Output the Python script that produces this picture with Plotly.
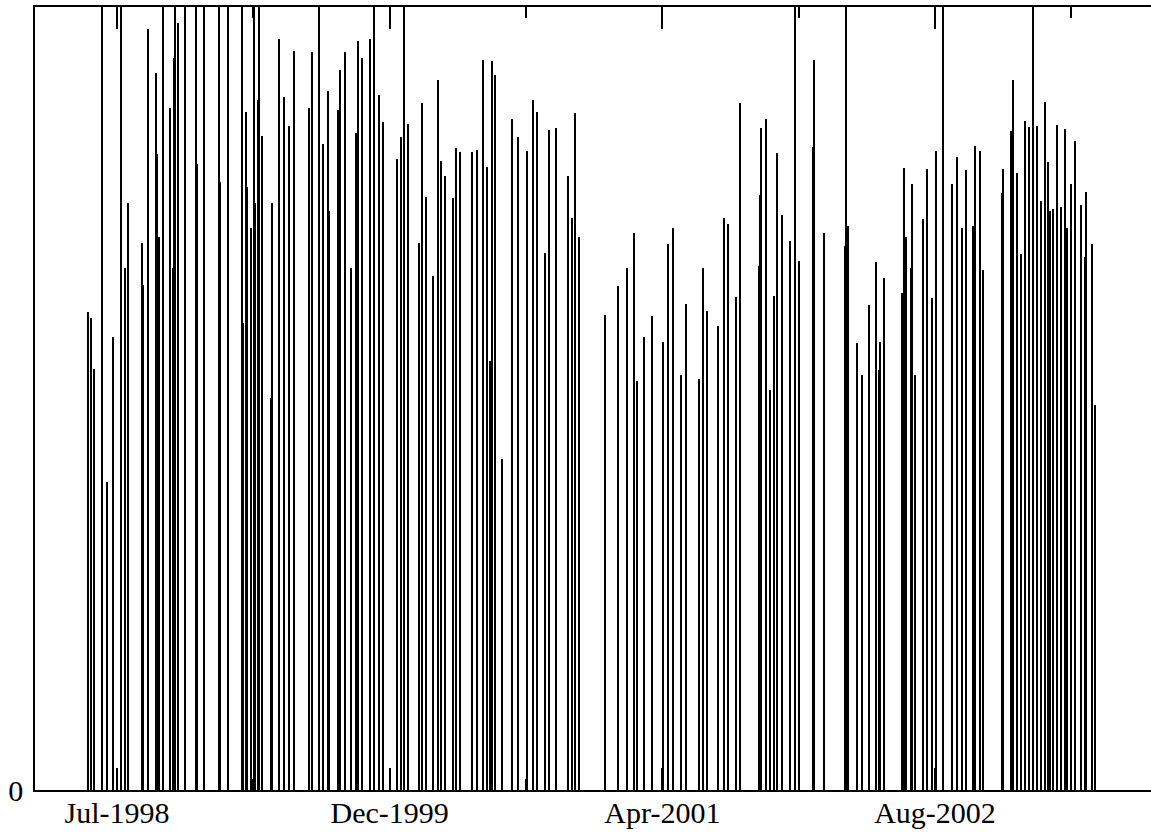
import pandas as pd
import plotly.graph_objects as go

# Observation dates, as days since 1998-01-01
obs_day = [158,163,170,184,193,204,218,225,232,257,258,267,283,284,288,295,296,307,308,314,
           315,317,322,335,355,356,357,369,370,397,398,399,413,414,439,439,441,446,448,455,
           456,461,462,469,470,476,492,493,506,516,525,533,562,566,580,586,596,597,614,618,
           626,638,647,650,658,672,679,688,697,721,728,734,741,761,767,774,788,796,802,809,
           823,830,837,858,867,878,886,891,894,900,913,931,942,959,970,977,991,998,1011,1034,
           1040,1046,1054,1100,1125,1141,1153,1159,1172,1186,1206,1215,1224,1240,1249,1272,1279,1286,1307,1317,
           1325,1340,1347,1381,1384,1385,1386,1394,1401,1408,1415,1423,1438,1447,1454,1479,1480,1481,1500,1539,
           1540,1543,1560,1569,1582,1594,1601,1602,1610,1642,1645,1650,1659,1661,1665,1680,1688,1696,1704,1717,
           1717,1734,1743,1751,1758,1772,1775,1784,1790,1825,1826,1841,1845,1851,1859,1867,1873,1881,1888,1895,
           1902,1908,1911,1918,1924,1932,1939,1943,1950,1957,1968,1975,1978,1988,1994]

# Observed values
obs_value = [61.0,60.3,53.8,112,39.3,57.9,108,66.7,75.0,69.9,64.5,97.2,91.6,81.2,70.6,115,88.5,68.1,87.1,66.7,
             93.5,104,98.0,120,91.6,110,79.9,106,76.5,86.1,118,77.7,109,83.8,56.4,73.7,59.6,86.6,77.0,71.8,
             66.7,113,75.0,88.1,105,83.5,50.1,75.0,95.9,88.5,84.8,94.4,87.1,94.3,111,82.5,89.3,73.9,86.8,92.0,
             94.3,66.7,83.9,95.7,93.5,95.9,107,88.8,85.3,80.6,83.4,103,85.1,69.9,87.7,75.7,65.6,90.7,80.3,78.4,
             75.6,82.0,81.5,81.5,81.7,93.2,79.6,54.8,93.1,91.3,42.3,85.7,83.4,81.6,88.1,86.6,68.6,84.3,84.5,78.4,
             73.1,86.5,70.6,60.7,64.4,66.7,71.1,52.2,57.9,60.5,57.2,69.7,71.8,53.0,62.1,52.5,66.7,61.2,59.3,73.1,
             72.3,63.0,87.7,66.9,76.0,84.5,79.4,85.7,51.1,63.1,81.4,73.4,70.1,116,67.6,73.4,82.1,93.2,71.1,69.5,
             110,72.0,57.1,53.0,61.9,67.4,53.6,57.2,65.4,63.5,79.4,70.6,66.7,77.4,53.0,72.9,79.3,62.8,81.6,71.1,
             54.7,77.4,80.8,71.8,79.2,72.0,82.2,81.6,66.4,76.2,79.3,84.2,90.7,78.8,68.5,85.4,84.7,117,84.8,75.2,
             87.9,80.2,73.9,74.2,84.9,74.5,84.4,71.8,77.4,82.9,74.7,68.1,76.4,69.7,49.2]

assert len(obs_day) == len(obs_value), (len(obs_day), len(obs_value))

# Axis ticks (days since 1998-01-01)
major_tick_day = [211, 708, 1205, 1702]
minor_tick_day = [459.5, 956.5, 1453.5, 1950.5]
x_range_day = [61.5, 2095.7]
y_range = [0, 100]

epoch = pd.Timestamp("1998-01-01")
to_date = lambda d: epoch + pd.to_timedelta(d, unit="D")

dates = [to_date(d) for d in obs_day]
day_ms = 86400000

fig = go.Figure(go.Bar(
    x=dates, y=obs_value,
    width=[2.4 * day_ms] * len(dates),
    marker=dict(color="black", line=dict(width=0)),
    hoverinfo="x+y",
))

font = dict(family="Liberation Serif, Times New Roman, serif", size=30, color="black")

fig.update_layout(
    width=1151, height=835,
    autosize=False,
    margin=dict(l=35, r=0, t=7, b=45),
    paper_bgcolor="white", plot_bgcolor="white",
    showlegend=False,
    bargap=0,
    font=font,
    xaxis=dict(
        type="date",
        range=[to_date(x_range_day[0]), to_date(x_range_day[1])],
        tickvals=[to_date(d) for d in major_tick_day],
        tickformat="%b-%Y",
        ticks="inside", ticklen=22, tickwidth=1.5, tickcolor="black",
        ticklabelstandoff=-5,
        minor=dict(tickvals=[to_date(d) for d in minor_tick_day], ticks="inside",
                   ticklen=11, tickwidth=1.5, tickcolor="black", showgrid=False),
        showline=True, linecolor="black", linewidth=1.5, mirror="ticks",
        showgrid=False, zeroline=False,
        tickfont=font,
    ),
    yaxis=dict(
        range=y_range,
        tickvals=[0], ticktext=["0"],
        ticks="", showline=True, linecolor="black", linewidth=1.5, mirror=False,
        ticklabelstandoff=4,
        showgrid=False, zeroline=False,
        tickfont=font,
    ),
)

fig.write_html(
    "out.html",
    config={"responsive": False, "displayModeBar": False},
    post_script="document.body.style.margin='0';document.body.style.overflow='hidden';",
)
